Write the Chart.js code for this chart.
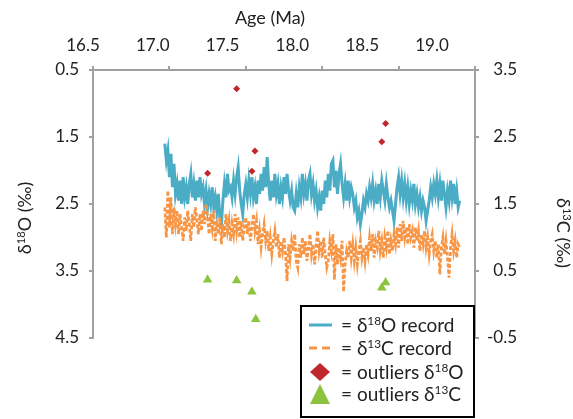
<!DOCTYPE html>
<html><head><meta charset="utf-8">
<script src="https://cdn.jsdelivr.net/npm/chart.js@4"></script>
<style>html,body{margin:0;padding:0;background:#fff;}#wrap{width:573px;height:419px;}</style>
</head><body><div id="wrap"><canvas id="c" width="573" height="419"></canvas></div>
<script>
// ---- data ----
const ages = [
16.97,16.98,16.99,
17.00,17.01,17.02,17.03,17.04,17.05,17.06,17.07,17.08,17.09,
17.10,17.11,17.12,17.13,17.14,17.15,17.16,17.17,17.18,17.19,
17.20,17.21,17.22,17.23,17.24,17.25,17.26,17.27,17.28,17.29,
17.30,17.31,17.32,17.33,17.34,17.35,17.36,17.37,17.38,17.39,
17.40,17.41,17.42,17.43,17.44,17.45,17.46,17.47,17.48,17.49,
17.50,17.51,17.52,17.53,17.54,17.55,17.56,17.57,17.58,17.59,
17.60,17.61,17.62,17.63,17.64,17.65,17.66,17.67,17.68,17.69,
17.70,17.71,17.72,17.73,17.74,17.75,17.76,17.77,17.78,17.79,
17.80,17.81,17.82,17.83,17.84,17.85,17.86,17.87,17.88,17.89,
17.90,17.91,17.92,17.93,17.94,17.95,17.96,17.97,17.98,17.99,
18.00,18.01,18.02,18.03,18.04,18.05,18.06,18.07,18.08,18.09,
18.10,18.11,18.12,18.13,18.14,18.15,18.16,18.17,18.18,18.19,
18.20,18.21,18.22,18.23,18.24,18.25,18.26,18.27,18.28,18.29,
18.30,18.31,18.32,18.33,18.34,18.35,18.36,18.37,18.38,18.39,
18.40,18.41,18.42,18.43,18.44,18.45,18.46,18.47,18.48,18.49,
18.50,18.51,18.52,18.53,18.54,18.55,18.56,18.57,18.58,18.59,
18.60,18.61,18.62,18.63,18.64,18.65,18.66,18.67,18.68,18.69,
18.70,18.71,18.72,18.73,18.74,18.75,18.76,18.77,18.78,18.79,
18.80,18.81,18.82,18.83,18.84,18.85,18.86,18.87,18.88,18.89,
18.90];
const d18O = [
1.60,1.85,1.70,
2.10,1.75,2.25,1.90,2.35,2.20,2.45,2.15,2.50,2.10,
2.40,2.25,2.50,2.20,2.05,2.40,2.20,2.45,2.15,2.40,
2.10,2.35,2.25,2.50,2.30,2.55,2.35,2.50,2.25,2.55,
2.40,2.60,2.35,2.70,2.80,2.45,2.20,2.40,2.05,2.30,
2.25,2.40,2.15,2.35,2.10,1.95,2.30,2.50,2.65,2.35,
2.20,2.40,2.15,2.35,2.10,2.40,2.25,2.50,2.15,2.35,
2.05,2.30,1.95,2.25,1.80,2.20,2.45,2.15,2.40,2.05,
2.35,2.20,2.50,2.25,2.40,2.10,2.35,2.05,2.30,2.45,
2.30,2.55,2.60,2.35,2.55,2.25,2.40,2.05,2.35,2.20,
2.45,2.15,2.05,2.35,2.20,2.45,2.30,2.55,2.40,2.60,
2.30,2.50,2.15,2.40,2.05,2.30,1.90,1.85,2.25,2.00,
2.35,2.05,1.90,2.20,2.40,2.20,2.45,2.15,2.40,2.25,
2.35,2.55,2.45,2.70,2.60,2.80,2.65,2.45,2.55,2.35,
2.45,2.25,2.40,2.20,2.45,2.30,2.50,2.20,2.40,2.15,
2.30,2.45,2.20,2.40,2.55,2.45,2.60,2.75,2.50,2.25,
2.10,2.35,2.15,2.40,2.20,2.45,2.25,2.50,2.30,2.45,
2.20,2.50,2.35,2.55,2.40,2.60,2.45,2.55,2.75,2.60,
2.45,2.25,2.40,2.20,2.35,2.15,2.40,2.20,2.45,2.15,
2.35,2.55,2.30,2.45,2.15,2.40,2.20,2.50,2.30,2.55,
2.45];
const d13C = [
1.45,1.00,1.70,
1.15,1.60,1.05,1.45,1.20,1.40,1.05,1.35,1.15,0.95,
1.30,1.10,1.40,1.20,0.95,1.35,1.15,1.45,1.25,1.05,
1.35,1.10,1.40,1.20,1.50,1.30,1.05,1.35,1.15,1.40,
0.95,1.25,1.05,1.30,0.90,1.20,1.00,1.35,1.10,1.25,
0.95,1.20,1.05,1.35,1.10,1.30,1.00,1.25,0.95,1.15,
1.30,1.05,1.25,0.95,1.15,1.35,1.10,1.25,0.90,1.10,
0.85,1.05,1.20,0.95,1.10,0.80,1.00,0.75,0.95,1.10,
0.85,1.05,0.70,0.95,0.80,1.00,0.75,0.35,0.90,0.70,
0.95,0.80,1.05,0.65,0.55,0.90,0.70,1.00,0.75,0.95,
0.65,0.85,1.05,0.75,0.90,0.60,0.85,1.10,0.80,0.95,
0.70,1.00,0.75,0.55,0.65,0.95,0.80,1.05,0.37,0.90,
0.60,0.85,0.70,0.95,0.19,0.60,0.80,0.70,0.95,0.70,
0.90,0.65,0.85,0.60,0.80,0.95,0.70,0.85,0.65,0.90,
0.75,1.00,0.80,1.05,0.70,0.95,0.85,1.10,0.80,0.95,
0.70,1.00,0.85,1.10,0.75,0.95,0.80,1.05,0.90,1.15,
0.85,1.20,0.95,1.25,1.00,1.15,0.90,1.20,1.00,1.10,
0.85,1.15,0.95,1.10,0.80,1.05,0.90,1.10,0.85,1.00,
0.75,0.95,1.05,0.80,0.95,0.70,0.90,0.45,0.85,1.00,
0.75,0.95,0.70,0.40,0.85,1.05,0.80,0.95,0.70,0.90,
0.85];
const outlierOAges = [17.25, 17.44, 17.54, 17.56, 18.39, 18.415];
const outlierOValues = [2.04, 0.78, 2.01, 1.71, 1.57, 1.30];
const outlierCAges = [17.25, 17.44, 17.54, 17.565, 18.39, 18.415];
const outlierCValues = [0.37, 0.36, 0.19, -0.22, 0.25, 0.33];
const xTicks = [16.5, 17.0, 17.5, 18.0, 18.5, 19.0];
const yLeftTicks = [0.5, 1.5, 2.5, 3.5, 4.5];
const yRightTicks = [-0.5, 0.5, 1.5, 2.5, 3.5];
const xTitle = 'Age (Ma)';
const yLeftTitle = [{t:'δ'},{t:'18',sup:true},{t:'O (‰)'}];
const yRightTitle = [{t:'δ'},{t:'13',sup:true},{t:'C (‰)'}];
const legendRows = [
  {kind:'line', parts:[{t:'= δ'},{t:'18',sup:true},{t:'O record'}]},
  {kind:'dash', parts:[{t:'= δ'},{t:'13',sup:true},{t:'C record'}]},
  {kind:'diamond', parts:[{t:'= outliers δ'},{t:'18',sup:true},{t:'O'}]},
  {kind:'triangle', parts:[{t:'= outliers δ'},{t:'13',sup:true},{t:'C'}]}
];

// ---- styles ----
const BLUE = '#4BACC6', ORANGE = '#F79646', RED = '#C0272D', GREEN = '#8CC43F';
const AXIS = '#A0A0A0', TXT = '#222222', FONT = 'Lato';

function richWidth(ctx, parts, size) {
  let w = 0;
  for (const p of parts) { ctx.font = (p.sup ? size*0.62 : size) + 'px ' + FONT; w += ctx.measureText(p.t).width; }
  return w;
}
function drawRich(ctx, parts, x, y, size) {
  let cx = x;
  for (const p of parts) {
    ctx.font = (p.sup ? size*0.62 : size) + 'px ' + FONT;
    ctx.fillText(p.t, cx, p.sup ? y - size*0.36 : y);
    cx += ctx.measureText(p.t).width;
  }
}

const decor = {
  id: 'decor',
  afterDraw(chart) {
    const ctx = chart.ctx;
    ctx.save();
    ctx.fillStyle = TXT;
    ctx.textBaseline = 'alphabetic';
    ctx.textAlign = 'left';
    // top title
    ctx.font = '18px ' + FONT;
    const tw = ctx.measureText(xTitle).width;
    ctx.fillText(xTitle, 270 - tw/2, 24);
    // left title
    ctx.save();
    ctx.translate(31, 218); ctx.rotate(-Math.PI/2);
    drawRich(ctx, yLeftTitle, -richWidth(ctx, yLeftTitle, 18)/2, 0, 18);
    ctx.restore();
    // right title
    ctx.save();
    ctx.translate(557, 233); ctx.rotate(Math.PI/2);
    drawRich(ctx, yRightTitle, -richWidth(ctx, yRightTitle, 18)/2, 0, 18);
    ctx.restore();
    // legend box
    const bx = 301, by = 306, bw = 173, bh = 111;
    ctx.fillStyle = '#fff'; ctx.fillRect(bx, by, bw, bh);
    ctx.strokeStyle = '#000'; ctx.lineWidth = 2; ctx.strokeRect(bx, by, bw, bh);
    const rowY = [325, 348, 372, 394];
    legendRows.forEach((r, i) => {
      const cy = rowY[i];
      if (r.kind === 'line') {
        ctx.strokeStyle = BLUE; ctx.lineWidth = 3; ctx.setLineDash([]);
        ctx.beginPath(); ctx.moveTo(309, cy); ctx.lineTo(332, cy); ctx.stroke();
      } else if (r.kind === 'dash') {
        ctx.strokeStyle = ORANGE; ctx.lineWidth = 3; ctx.setLineDash([8, 5]);
        ctx.beginPath(); ctx.moveTo(309, cy); ctx.lineTo(332, cy); ctx.stroke();
        ctx.setLineDash([]);
      } else if (r.kind === 'diamond') {
        ctx.fillStyle = RED;
        ctx.beginPath(); ctx.moveTo(320, cy-9); ctx.lineTo(330, cy); ctx.lineTo(320, cy+9); ctx.lineTo(310, cy); ctx.closePath(); ctx.fill();
      } else {
        ctx.fillStyle = GREEN;
        ctx.beginPath(); ctx.moveTo(320, cy-10); ctx.lineTo(330, cy+10); ctx.lineTo(310, cy+10); ctx.closePath(); ctx.fill();
      }
      ctx.fillStyle = TXT;
      drawRich(ctx, r.parts, 341, cy + 7, 19);
    });
    ctx.restore();
  }
};

const tickFont = {family: FONT, size: 17};
new Chart(document.getElementById('c'), {
  type: 'scatter',
  data: {
    datasets: [
      {label: 'outliers d18O', data: outlierOAges.map((a, i) => ({x: a, y: outlierOValues[i]})), xAxisID: 'x', yAxisID: 'y',
       pointStyle: 'rectRot', pointRadius: 3.5, backgroundColor: RED, borderColor: RED, borderWidth: 0, order: 0},
      {label: 'outliers d13C', data: outlierCAges.map((a, i) => ({x: a, y: outlierCValues[i]})), xAxisID: 'x', yAxisID: 'y2',
       pointStyle: 'triangle', pointRadius: 5.5, backgroundColor: GREEN, borderColor: GREEN, borderWidth: 0, order: 0},
      {label: 'd13C record', data: ages.map((a, i) => ({x: a, y: d13C[i]})), xAxisID: 'x', yAxisID: 'y2', showLine: true,
       borderColor: ORANGE, borderWidth: 2.75, borderDash: [4, 2], pointRadius: 0, order: 1},
      {label: 'd18O record', data: ages.map((a, i) => ({x: a, y: d18O[i]})), xAxisID: 'x', yAxisID: 'y', showLine: true,
       borderColor: BLUE, borderWidth: 3, pointRadius: 0, order: 2}
    ]
  },
  options: {
    responsive: false, animation: false, devicePixelRatio: 1,
    layout: {padding: {left: 0, right: 56, top: 0, bottom: 81}},
    plugins: {legend: {display: false}, tooltip: {enabled: false}},
    scales: {
      x: {type: 'linear', position: 'top', min: 16.5, max: 19.0, weight: 0,
          afterBuildTicks: s => { s.ticks = xTicks.map(v => ({value: v})); },
          afterFit: s => { s.height = 4; },
          grid: {display: true, drawOnChartArea: false, drawTicks: true, tickLength: 4, color: AXIS, lineWidth: 2},
          border: {display: true, color: AXIS, width: 2},
          ticks: {display: false}},
      xl: {type: 'linear', position: 'top', min: 16.5716, max: 19.308, weight: 1,
          afterBuildTicks: s => { s.ticks = xTicks.map(v => ({value: v})); },
          afterFit: s => { s.height = 66; },
          grid: {display: false}, border: {display: false},
          ticks: {autoSkip: false, maxRotation: 0, padding: 2, font: tickFont, color: TXT, callback: v => Number(v).toFixed(1)}},
      y: {type: 'linear', position: 'left', min: 0.5, max: 4.5, reverse: true,
          afterBuildTicks: s => { s.ticks = yLeftTicks.map(v => ({value: v})); },
          afterFit: s => { s.width = 93; },
          grid: {display: true, drawOnChartArea: false, drawTicks: true, tickLength: 4, color: AXIS, lineWidth: 2},
          border: {display: true, color: AXIS, width: 2},
          ticks: {autoSkip: false, padding: 10, font: tickFont, color: TXT, callback: v => Number(v).toFixed(1)}},
      y2: {type: 'linear', position: 'right', min: -0.5, max: 3.5, reverse: false,
          afterBuildTicks: s => { s.ticks = yRightTicks.map(v => ({value: v})); },
          afterFit: s => { s.width = 42; },
          grid: {display: true, drawOnChartArea: false, drawTicks: true, tickLength: 4, color: AXIS, lineWidth: 2},
          border: {display: true, color: AXIS, width: 2},
          ticks: {autoSkip: false, padding: 6, crossAlign: 'far', font: tickFont, color: TXT, callback: v => Number(v).toFixed(1)}}
    }
  },
  plugins: [decor]
});
</script>
</body></html>
